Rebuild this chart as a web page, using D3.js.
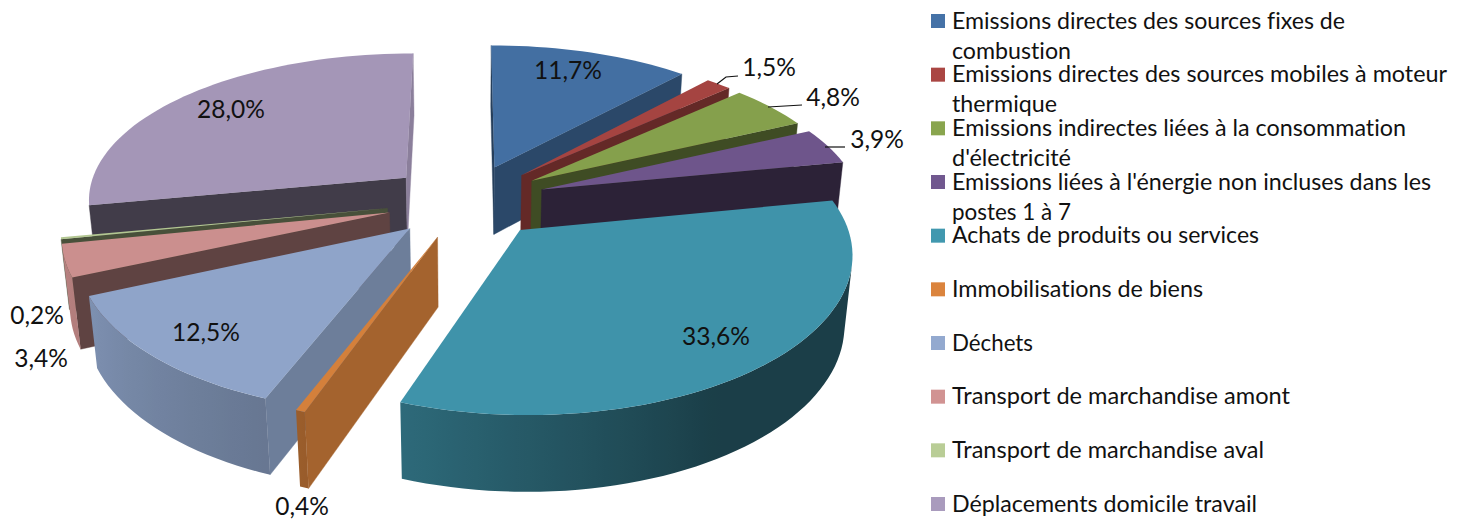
<!DOCTYPE html>
<html><head><meta charset="utf-8">
<script src="https://cdnjs.cloudflare.com/ajax/libs/d3/7.8.5/d3.min.js"></script>
<style>html,body{margin:0;padding:0;background:#fff}svg{display:block}text{font-family:Lato,"Open Sans",sans-serif;fill:#111;font-variant-ligatures:none}</style>
</head><body><svg id="c" width="1461" height="520"></svg>
<script>
// ---- data
const categories = [
  ["Emissions directes des sources fixes de","combustion"],
  ["Emissions directes des sources mobiles à moteur","thermique"],
  ["Emissions indirectes liées à la consommation","d'électricité"],
  ["Emissions liées à l'énergie non incluses dans les","postes 1 à 7"],
  ["Achats de produits ou services"],
  ["Immobilisations de biens"],
  ["Déchets"],
  ["Transport de marchandise amont"],
  ["Transport de marchandise aval"],
  ["Déplacements domicile travail"]
];
const values = [11.7,1.5,4.8,3.9,33.6,0.4,12.5,3.4,0.2,28.0];
const colors = ["#4572A7","#AA4643","#89A54E","#71588F","#4198AF","#DB843D","#93A9CF","#D19392","#B9CD96","#A99BBD"];
// ---- layout (not data)
const legendLineEnds = [[1345,1071],[1447,1057],[1406,1071],[1431,1071],[1259],[1203],[1033],[1290],[1264],[1257]];
const labelCentres = [[568,70],[769,67],[833,97],[877,139],[716,336],[302,506],[206,332],[41,358],[37,315],[231,109]];
const leaders = {1:[[717,84],[726,77],[738,76]],2:[[768,107],[802,105]],3:[[825,147],[845,147]]};
const paintOrder = [0,1,2,3,4,9,8,7,6,5];
const cam = {cx:466.5, cy:201, tilt:0.465, Dx:2400, Dy:2200, R:320, explode:80, H:70, zPush:0.7};

const fmt = v => d3.format(".1f")(v).replace(".",",")+"%";
const svg = d3.select("#c");
const defs = svg.append("defs");
const pie = d3.pie().sort(null).value(d=>d).startAngle(0).endAngle(2*Math.PI);
const arcs = pie(values);

function project(X,Y,z){
  const d = Y+cam.zPush*cam.H*z;
  const kx = 1/(1+d/cam.Dx), ky = 1/(1+d/cam.Dy);
  return [cam.cx+X*kx, cam.cy+(-cam.tilt*Y+cam.H*z)*ky];
}
const area2 = p => { let s=0; p.forEach((a,i)=>{const b=p[(i+1)%p.length]; s+=a[0]*b[1]-b[0]*a[1];}); return s; };
const line = d3.line().curve(d3.curveLinearClosed);
const DEG = 180/Math.PI;
const outerShade = d3.scaleLinear().domain([90,150,200,250,270]).range([.41,.41,.70,.87,.90]).clamp(true);
const radialShade = d3.scaleLinear().domain([90,110,132,155,170,270]).range([.82,.75,.63,.46,.38,.55]).clamp(true);
const shade = (c,f)=>{const r=d3.rgb(c);return d3.rgb(r.r*f,r.g*f,r.b*f).formatHex();};

paintOrder.forEach(i=>{
  const a = arcs[i], mid=(a.startAngle+a.endAngle)/2, col=colors[i];
  const ox = cam.explode*Math.sin(mid), oy = cam.explode*Math.cos(mid);
  const pt = (ang,r,z)=>project(ox+r*Math.sin(ang), oy+r*Math.cos(ang), z);
  const g = svg.append("g");
  const n = Math.max(2,Math.ceil((a.endAngle-a.startAngle)*DEG/2));
  const angs = d3.range(n+1).map(j=>a.startAngle+(a.endAngle-a.startAngle)*j/n);

  // radial walls with back-face culling
  const apexT=pt(0,0,0), apexB=pt(0,0,1);
  [[a.startAngle,1,a.startAngle*DEG-90],[a.endAngle,-1,a.endAngle*DEG+90]].forEach(([ang,sgn,dir])=>{
    const q=[apexT,pt(ang,cam.R,0),pt(ang,cam.R,1),apexB];
    if(area2(q)*sgn<0){
      const d=(dir+360)%360;
      g.append("path").attr("d",line(q)).attr("fill",shade(col,radialShade(d))).attr("stroke",shade(col,radialShade(d))).attr("stroke-width",.4);
    }
  });
  // outer wall: one polygon with a horizontal gradient following the angle
  const vis = angs.filter((t,j)=>j<n && area2([pt(angs[j],cam.R,0),pt(angs[j+1],cam.R,0),pt(angs[j+1],cam.R,1),pt(angs[j],cam.R,1)])<0);
  if(vis.length){
    const step = angs[1]-angs[0];
    const run = [...vis, vis[vis.length-1]+step];
    const topE = run.map(t=>pt(t,cam.R,0)), botE = run.map(t=>pt(t,cam.R,1));
    const xs = topE.concat(botE).map(p=>p[0]);
    const x0=d3.min(xs), x1=d3.max(xs);
    const id="wall"+i;
    const grad=defs.append("linearGradient").attr("id",id).attr("gradientUnits","userSpaceOnUse")
      .attr("x1",x0).attr("x2",x1).attr("y1",0).attr("y2",0);
    run.map((t,j)=>({o:(topE[j][0]-x0)/Math.max(1,x1-x0),c:shade(col,outerShade(t*DEG))}))
      .sort((p,q)=>p.o-q.o)
      .forEach(s=>grad.append("stop").attr("offset",s.o).attr("stop-color",s.c));
    g.append("path").attr("d",line([...topE,...botE.reverse()])).attr("fill",`url(#${id})`);
  }
  // top face
  g.append("path").attr("d",line([apexT,...angs.map(t=>pt(t,cam.R,0))])).attr("fill",shade(col,.97));
});

// leader lines
Object.values(leaders).forEach(p=>svg.append("path").attr("d",d3.line()(p)).attr("fill","none").attr("stroke","#111").attr("stroke-width",1.2));

// data labels
svg.append("g").selectAll("text").data(values).join("text")
  .attr("x",(d,i)=>labelCentres[i][0]).attr("y",(d,i)=>labelCentres[i][1]+8.5)
  .attr("text-anchor","middle").attr("font-size",24.5).text(fmt);

// legend
const legendY = d3.scalePoint().domain(d3.range(categories.length)).range([21,504]);
const legend = svg.append("g");
categories.forEach((lines,i)=>{
  const y=legendY(i);
  legend.append("rect").attr("x",931).attr("y",y-7).attr("width",14).attr("height",14).attr("fill",colors[i]);
  lines.forEach((t,j)=>{
    legend.append("text").attr("x",952).attr("y",y+7.5+j*30).attr("font-size",22.5)
      .attr("textLength",legendLineEnds[i][j]-952).attr("lengthAdjust","spacingAndGlyphs").text(t);
  });
});
</script></body></html>
